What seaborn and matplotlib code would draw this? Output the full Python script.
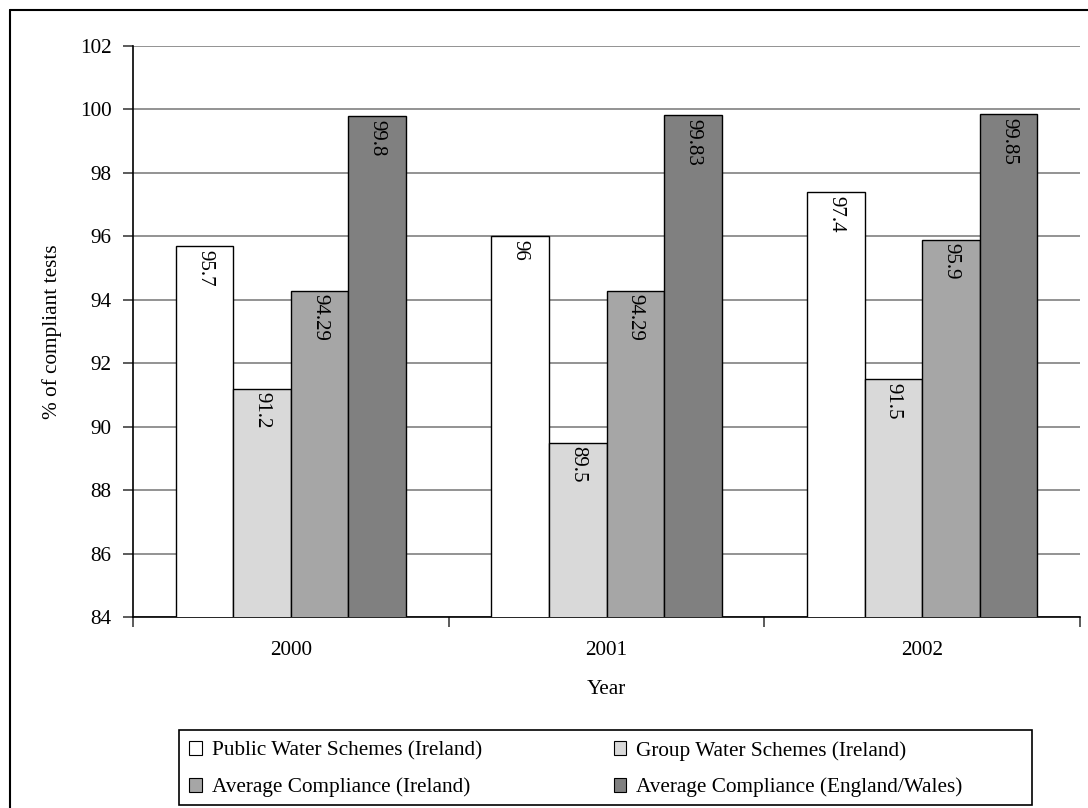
import matplotlib
matplotlib.use("Agg")
import matplotlib.pyplot as plt
import seaborn as sns
import pandas as pd
from matplotlib.patches import Patch, Rectangle
from matplotlib.lines import Line2D

years = ["2000", "2001", "2002"]
series = ["Public Water Schemes (Ireland)", "Group Water Schemes (Ireland)",
          "Average Compliance (Ireland)", "Average Compliance (England/Wales)"]
public_ws = [95.7, 96, 97.4]
group_ws = [91.2, 89.5, 91.5]
avg_ireland = [94.29, 94.29, 95.9]
avg_engwales = [99.8, 99.83, 99.85]
colors = ["#ffffff", "#d9d9d9", "#a6a6a6", "#808080"]

rows = []
for s, vals in zip(series, [public_ws, group_ws, avg_ireland, avg_engwales]):
    for y, v in zip(years, vals):
        rows.append({"Year": y, "Series": s, "Value": v})
df = pd.DataFrame(rows)

sns.set_theme(style="white")
plt.rcParams["font.family"] = ["Liberation Serif", "DejaVu Serif"]
plt.rcParams["text.color"] = "black"
plt.rcParams["axes.labelcolor"] = "black"
plt.rcParams["xtick.color"] = "black"
plt.rcParams["ytick.color"] = "black"

FS = 15.3
fig = plt.figure(figsize=(10.88, 8.08), dpi=100)
ax = fig.add_axes([133/1088, 1-617/808, (1080-133)/1088, (617-46)/808])

sns.barplot(data=df, x="Year", y="Value", hue="Series", order=years, hue_order=series,
            palette=colors, edgecolor="black", linewidth=1.0, width=0.73,
            saturation=1, ax=ax, legend=False, zorder=3)

ax.set_ylim(84, 102)
ax.set_yticks(range(84, 103, 2))
ax.yaxis.grid(True, color="#808080", linewidth=1.2, zorder=0)
ax.set_axisbelow(True)
ax.set_xlim(-0.5, 2.5)
for sp in ["top", "right"]:
    ax.spines[sp].set_visible(False)
for sp in ["left", "bottom"]:
    ax.spines[sp].set_color("black")
    ax.spines[sp].set_linewidth(1.2)

ax.set_xticks([0, 1, 2])
ax.set_xticklabels(years, fontsize=FS)
ax.tick_params(axis="x", length=0, pad=17)
ax.set_xticks([-0.5, 0.5, 1.5, 2.5], minor=True)
ax.tick_params(axis="x", which="minor", length=7, width=1.2, color="#404040", bottom=True)
ax.tick_params(axis="y", length=7.5, width=1.2, color="#404040", left=True, labelsize=FS, pad=8)

ax.set_xlabel("Year", fontsize=FS, labelpad=15)
ax.set_ylabel("% of compliant tests", fontsize=FS, labelpad=13)

for cont in ax.containers:
    for bar in cont:
        h = bar.get_height()
        ax.text(bar.get_x() + bar.get_width()/2, h - 0.12, f"{h:g}",
                rotation=-90, ha="center", va="top", fontsize=15, zorder=5)

# outer frame
fig.add_artist(Line2D([10/1088, 1], [1-10/808, 1-10/808], color="black", lw=1.5,
                      transform=fig.transFigure))
fig.add_artist(Line2D([10/1088, 10/1088], [0, 1-10/808], color="black", lw=1.5,
                      transform=fig.transFigure))

# legend frame
fig.add_artist(Rectangle((179/1088, 1-805/808), (1032-179)/1088, (805-730)/808,
                         transform=fig.transFigure, fill=False, edgecolor="black", lw=1.2))
handles = [Patch(facecolor=c, edgecolor="black", linewidth=0.8) for c in colors]
order = [0, 2, 1, 3]
leg = fig.legend([handles[i] for i in order], [series[i] for i in order],
                 ncol=2, loc="upper left", bbox_to_anchor=(189/1088, 1-741/808),
                 frameon=False, fontsize=FS, handlelength=0.6, handleheight=0.6,
                 handletextpad=0.47, columnspacing=6.2, labelspacing=0.8,
                 borderpad=0, borderaxespad=0)

fig.savefig("out.png", dpi=100)
